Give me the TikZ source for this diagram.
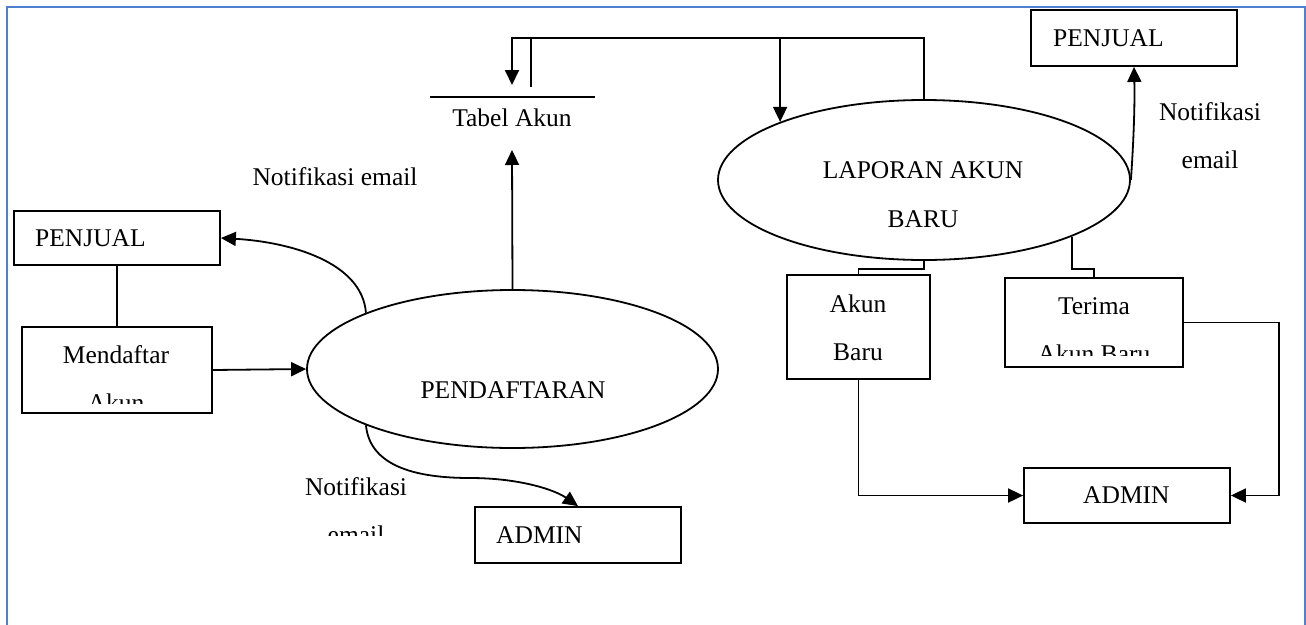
\documentclass[tikz,border=0pt]{standalone}
\usepackage{fontspec}
\setmainfont{Liberation Serif}
\usetikzlibrary{arrows.meta,shapes.geometric}
\definecolor{frameblue}{RGB}{79,129,208}
\begin{document}
\begin{tikzpicture}[x=1pt,y=-1pt,
  txt/.style={inner sep=0pt, anchor=base, font=\fontsize{25.5}{30}\selectfont},
  txtl/.style={txt, anchor=base west},
  box/.style={draw, line width=1.8pt, inner sep=0pt},
  proc/.style={draw, ellipse, line width=1.8pt, inner sep=0pt},
  link/.style={line width=1.8pt},
  flow/.style={line width=1.8pt, -{Triangle[length=15pt,width=14pt]}}]
\useasboundingbox (0,0) rectangle (1306,624);

% page frame
\draw[frameblue, line width=2.4pt] (7,640) -- (7,7) -- (1305,7) -- (1305,640);

% processes
\node[proc, minimum width=411pt, minimum height=158pt] (pend) at (512.5,369) {};
\node[proc, minimum width=412pt, minimum height=160pt] (lap) at (924,180) {};

% external entities
\node[box, minimum width=206pt, minimum height=54pt] (penjL) at (117,238) {};
\node[box, minimum width=190pt, minimum height=86pt] (mend) at (117,370) {};
\node[box, minimum width=206pt, minimum height=56pt] (admL) at (578,535) {};
\node[box, minimum width=206pt, minimum height=56pt] (penjR) at (1134,38) {};
\node[box, minimum width=143pt, minimum height=104pt] (akun) at (858.5,327) {};
\node[box, minimum width=178pt, minimum height=89pt] (terima) at (1094,322.5) {};
\node[box, minimum width=206pt, minimum height=55pt] (admR) at (1127,495.5) {};

% data store
\coordinate (storeL) at (430,97);
\coordinate (storeR) at (595,97);
\draw[link] (storeL) -- (storeR);
\node[txt] (tabel) at (512,126) {Tabel Akun};
\coordinate (storeIn) at (512,85);
\coordinate (storeOut) at (531,87);
\coordinate (storeBot) at (512,150);
\coordinate (bus) at (0,38);

% texts
\node[txt] (notifL) at (335,185) {Notifikasi email};
\node[txtl] (tPenjL) at (35,246) {PENJUAL};
\node[txt] (tMend) at (116,363) {Mendaftar};
\begin{scope}
  \clip (0,0) rectangle (1306,403);
  \node[txt] (tMend2) at (116,411) {Akun};
\end{scope}
\node[txt] (tPend) at (513,398) {PENDAFTARAN};
\node[txt] (notifB) at (356,495) {Notifikasi};
\begin{scope}
  \clip (0,0) rectangle (1306,535);
  \node[txt] (notifB2) at (356,543) {email};
\end{scope}
\node[txtl] (tAdmL) at (496,543) {ADMIN};
\node[txt] (tLap) at (923,178) {LAPORAN AKUN};
\node[txt] (tLap2) at (923,227) {BARU};
\node[txtl] (tPenjR) at (1053,46) {PENJUAL};
\node[txt] (notifR) at (1210,120) {Notifikasi};
\node[txt] (notifR2) at (1210,168) {email};
\node[txt] (tAkun) at (858,312) {Akun};
\node[txt] (tAkun2) at (858,360) {Baru};
\node[txt] (tTerima) at (1094,314) {Terima};
\begin{scope}
  \clip (0,0) rectangle (1306,355);
  \node[txt] (tTerima2) at (1094,362) {Akun Baru};
\end{scope}
\node[txtl] (tAdmR) at (1083,503) {ADMIN};

% connectors
\draw[link] (penjL.south) -- (mend.north);
\draw[flow] (mend.east) -- (pend.west);
\draw[flow] (pend.159) .. controls (362,262) and (290,242) .. (penjL.east);
\draw[flow] (pend.201) .. controls (370,468) and (420,478) .. (470,478)
  .. controls (520,478) and (555,490) .. (admL.north);
\draw[flow] (pend.north) -- (storeBot);
\draw[flow] (lap.north) -- (lap.north |- bus) -| (storeIn);
\draw[flow] (storeOut) -- (storeOut |- bus) -| (lap.158.6);
\draw[flow] (lap.east) .. controls (1133,150) and (1135,110) .. (penjR.south);
\draw[link] (lap.south) -- ++(0,8) -| (akun.north);
\draw[link] (lap.-21.6) -- ++(0,32) -| (terima.north);
\draw[flow] (akun.south) |- (admR.west);
\draw[flow] (terima.east) -- ++(95,0) |- (admR.east);
\end{tikzpicture}
\end{document}
